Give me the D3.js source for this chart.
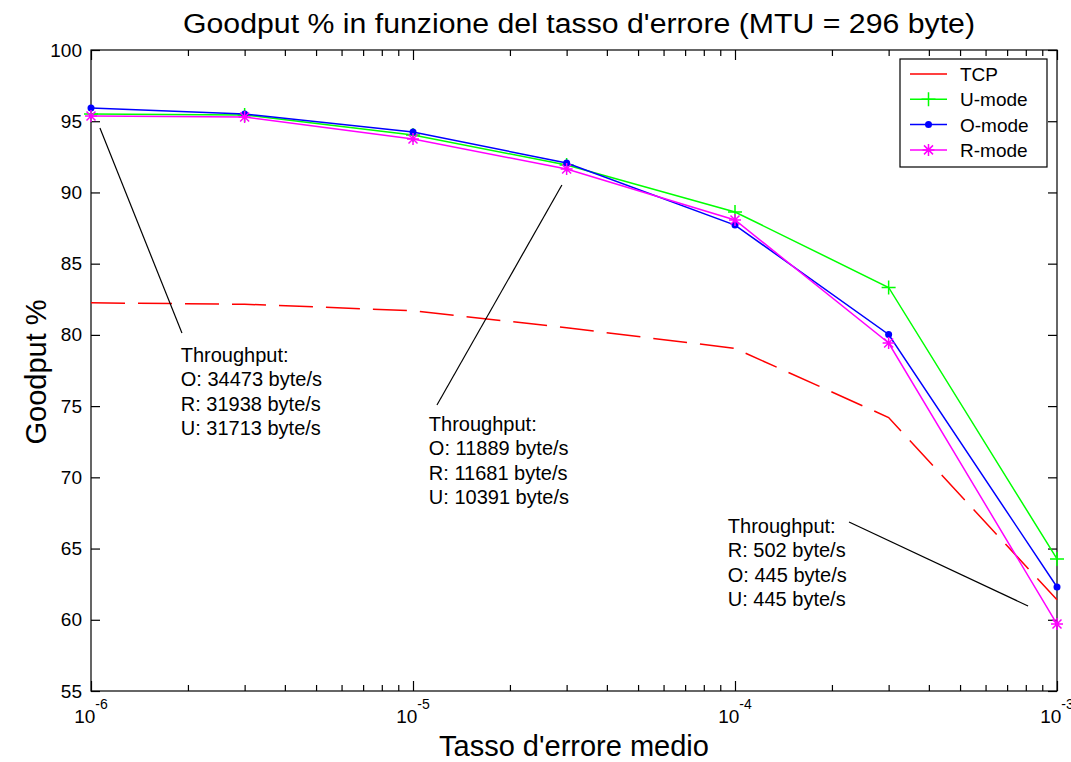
<!DOCTYPE html>
<html>
<head>
<meta charset="utf-8">
<script src="https://cdn.jsdelivr.net/npm/d3@7"></script>
<style>
  body { margin: 0; background: #fff; }
  svg { font-family: "Liberation Sans", Arial, sans-serif; }
</style>
</head>
<body>
<svg id="graph" width="1071" height="762"></svg>
<script>
// error rates (x) and goodput % for each mode
var errRates = [1e-6, 3e-6, 1e-5, 3e-5, 1e-4, 3e-4, 1e-3];
var tcp   = [82.25, 82.15, 81.7, 80.5, 79.05, 74.2, 61.4];
var uMode = [95.5, 95.44, 94.03, 91.93, 88.63, 83.33, 64.27];
var oMode = [95.93, 95.5, 94.24, 92.07, 87.71, 80.03, 62.3];
var rMode = [95.37, 95.3, 93.75, 91.65, 88.07, 79.43, 59.7];

var yTicks = [55, 60, 65, 70, 75, 80, 85, 90, 95, 100];
var xDecades = [1e-6, 1e-5, 1e-4, 1e-3];
var xExponents = ['-6', '-5', '-4', '-3'];

var seriesNames = ['TCP', 'U-mode', 'O-mode', 'R-mode'];

// annotations (data coords): text anchor + pointer line
var noteText = [
  ['Throughput:', 'O: 34473 byte/s', 'R: 31938 byte/s', 'U: 31713 byte/s'],
  ['Throughput:', 'O: 11889 byte/s', 'R: 11681 byte/s', 'U: 10391 byte/s'],
  ['Throughput:', 'R: 502 byte/s', 'O: 445 byte/s', 'U: 445 byte/s']
];
var notePos = [[1.90e-6, 78.1], [1.12e-5, 73.25], [9.5e-5, 66.09]];
var noteLines = [
  [[1.066e-6, 94.52], [1.916e-6, 80.13]],
  [[2.90e-5, 90.52], [1.187e-5, 75.08]],
  [[2.26e-4, 66.86], [8.13e-4, 60.97]]
];

var svg = d3.select('#graph');
var pLeft = 91, pRight = 1057, pTop = 50, pBottom = 691;

var x = d3.scaleLog().domain([1e-6, 1e-3]).range([pLeft, pRight]);
var y = d3.scaleLinear().domain([55, 100]).range([pBottom, pTop]);

// minor ticks for log axis
var minorTicks = [];
xDecades.slice(0, 3).forEach(function(d){
  for (var k = 2; k <= 9; k++) minorTicks.push(d * k);
});

/*************************************************************************/
// axes, inward ticks on all four sides

svg.append('rect')
  .attr('x', pLeft).attr('y', pTop)
  .attr('width', pRight - pLeft).attr('height', pBottom - pTop)
  .attr('fill', 'none').attr('stroke', '#000').attr('stroke-width', 1.2);

function styleAxis(g){
  g.select('.domain').remove();
  g.selectAll('.tick line').attr('stroke', '#000').attr('stroke-width', 1.2);
}

svg.append('g').attr('transform', 'translate(' + pLeft + ',0)')
  .call(d3.axisLeft(y).tickValues(yTicks).tickSize(-9).tickPadding(9))
  .call(styleAxis)
  .selectAll('text').attr('font-size', 19).attr('fill', '#000')
  .attr('font-family', '"Liberation Sans", Arial, sans-serif');

svg.append('g').attr('transform', 'translate(' + pRight + ',0)')
  .call(d3.axisRight(y).tickValues(yTicks).tickSize(-9).tickFormat(''))
  .call(styleAxis);

svg.append('g').attr('transform', 'translate(0,' + pBottom + ')')
  .call(d3.axisBottom(x).tickValues(xDecades).tickSize(-10).tickFormat(''))
  .call(styleAxis);
svg.append('g').attr('transform', 'translate(0,' + pBottom + ')')
  .call(d3.axisBottom(x).tickValues(minorTicks).tickSize(-6).tickFormat(''))
  .call(styleAxis);
svg.append('g').attr('transform', 'translate(0,' + pTop + ')')
  .call(d3.axisTop(x).tickValues(xDecades).tickSize(-10).tickFormat(''))
  .call(styleAxis);
svg.append('g').attr('transform', 'translate(0,' + pTop + ')')
  .call(d3.axisTop(x).tickValues(minorTicks).tickSize(-6).tickFormat(''))
  .call(styleAxis);

// x tick labels 10^n
var xl = svg.selectAll('.xlab').data(xDecades).enter().append('text')
  .attr('class', 'xlab')
  .attr('x', d => x(d)).attr('y', pBottom + 32)
  .attr('text-anchor', 'middle').attr('font-size', 19);
xl.append('tspan').text('10');
xl.append('tspan').attr('dy', -14).attr('font-size', 14).text((d, i) => xExponents[i]);

/*************************************************************************/
// series

var lineGen = d3.line().x(d => x(d[0])).y(d => y(d[1]));
function pts(vals){ return errRates.map((d, i) => [d, vals[i]]); }

svg.append('path')
  .attr('d', lineGen(pts(tcp)))
  .attr('fill', 'none').attr('stroke', '#ff0000').attr('stroke-width', 1.5)
  .attr('stroke-dasharray', '34,13');

var plusPath = 'M-7,0H7M0,-7V7';
var starPath = 'M-6,0H6M0,-6V6M-4.5,-4.5L4.5,4.5M-4.5,4.5L4.5,-4.5';

function drawSeries(vals, color, marker){
  svg.append('path')
    .attr('d', lineGen(pts(vals)))
    .attr('fill', 'none').attr('stroke', color).attr('stroke-width', 1.5);
  var p = pts(vals);
  if (marker === 'dot') {
    svg.selectAll(null).data(p).enter().append('circle')
      .attr('cx', d => x(d[0])).attr('cy', d => y(d[1])).attr('r', 3.5)
      .attr('fill', color);
  } else {
    svg.selectAll(null).data(p).enter().append('path')
      .attr('transform', d => 'translate(' + x(d[0]) + ',' + y(d[1]) + ')')
      .attr('d', marker === 'plus' ? plusPath : starPath)
      .attr('fill', 'none').attr('stroke', color).attr('stroke-width', 1.5);
  }
}

drawSeries(uMode, '#00ff00', 'plus');
drawSeries(oMode, '#0000ff', 'dot');
drawSeries(rMode, '#ff00ff', 'star');

/*************************************************************************/
// annotations

noteLines.forEach(function(l){
  svg.append('line')
    .attr('x1', x(l[0][0])).attr('y1', y(l[0][1]))
    .attr('x2', x(l[1][0])).attr('y2', y(l[1][1]))
    .attr('stroke', '#000').attr('stroke-width', 1.2);
});

noteText.forEach(function(lines, i){
  var t = svg.append('text')
    .attr('x', x(notePos[i][0])).attr('y', y(notePos[i][1]))
    .attr('font-size', 20).attr('fill', '#000');
  lines.forEach(function(s, j){
    t.append('tspan').attr('x', x(notePos[i][0])).attr('dy', j === 0 ? 0 : 24.3).text(s);
  });
});

/*************************************************************************/
// legend

var lg = svg.append('g').attr('transform', 'translate(900,59)');
lg.append('rect').attr('width', 147).attr('height', 108)
  .attr('fill', '#fff').attr('stroke', '#000').attr('stroke-width', 1.2);

var legColors = ['#ff0000', '#00ff00', '#0000ff', '#ff00ff'];
var legMarkers = ['none', 'plus', 'dot', 'star'];
seriesNames.forEach(function(name, i){
  var ly = 15 + i * 25.3;
  lg.append('line').attr('x1', 10).attr('x2', 47).attr('y1', ly).attr('y2', ly)
    .attr('stroke', legColors[i]).attr('stroke-width', 1.5);
  if (legMarkers[i] === 'dot') {
    lg.append('circle').attr('cx', 28.5).attr('cy', ly).attr('r', 3.5).attr('fill', legColors[i]);
  } else if (legMarkers[i] !== 'none') {
    lg.append('path').attr('transform', 'translate(28.5,' + ly + ')')
      .attr('d', legMarkers[i] === 'plus' ? plusPath : starPath)
      .attr('fill', 'none').attr('stroke', legColors[i]).attr('stroke-width', 1.5);
  }
  lg.append('text').attr('x', 60).attr('y', ly + 7).attr('font-size', 19).text(name);
});

/*************************************************************************/
// titles

svg.append('text').attr('x', 579).attr('y', 33).attr('text-anchor', 'middle')
  .attr('font-size', 27).attr('textLength', 792).attr('lengthAdjust', 'spacingAndGlyphs')
  .text("Goodput % in funzione del tasso d'errore (MTU = 296 byte)");

svg.append('text').attr('x', 574).attr('y', 756).attr('text-anchor', 'middle')
  .attr('font-size', 29).text("Tasso d'errore medio");

svg.append('text').attr('transform', 'translate(46,372) rotate(-90)')
  .attr('text-anchor', 'middle').attr('font-size', 29).text('Goodput %');
</script>
</body>
</html>
